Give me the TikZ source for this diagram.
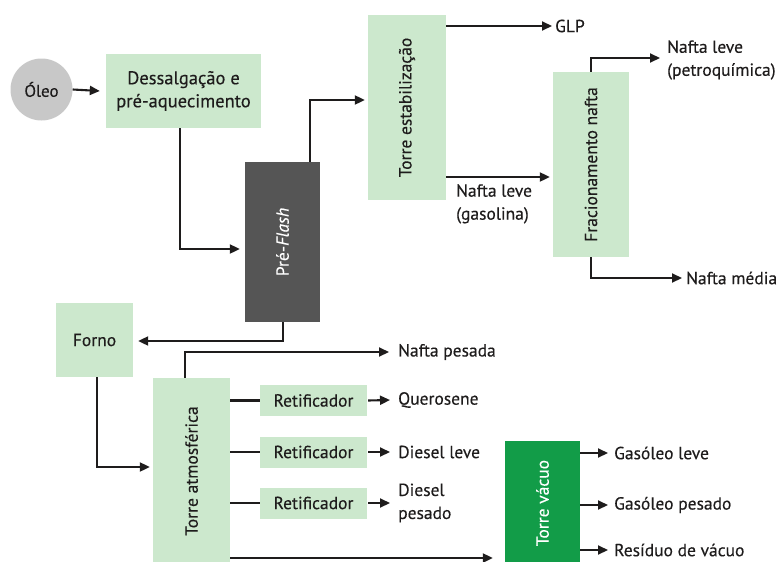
\documentclass[tikz,border=0pt]{standalone}
\usepackage{fontspec}
\usepackage{graphicx}
\setmainfont[FakeBold=0.3]{PT Sans}
\usetikzlibrary{arrows.meta,calc}

\definecolor{boxgreen}{RGB}{204,232,205}
\definecolor{flashgray}{RGB}{85,85,85}
\definecolor{vacgreen}{RGB}{18,156,72}
\definecolor{oilgray}{RGB}{200,200,200}
\definecolor{ink}{RGB}{30,28,28}

\begin{document}
\begin{tikzpicture}[x=1pt,y=-1pt,
  every node/.style={font=\fontsize{17.5}{23}\selectfont, text=ink},
  unit/.style={fill=boxgreen, draw=none, inner sep=0pt, align=center},
  flow/.style={draw=ink, line width=2.1pt, -{Triangle[length=10pt,width=9pt]}},
  tie/.style={draw=ink, line width=2.1pt},
  product/.style={anchor=west, align=left, inner sep=0pt},
]
\useasboundingbox (0,0) rectangle (782,562);

% --- process units ---
\node[circle, fill=oilgray, minimum size=62pt, inner sep=0pt, font=\fontsize{17}{20}\selectfont] (oleo) at (41.5,89.5) {Óleo};
\node[unit, minimum width=155pt, minimum height=74pt] (dess) at (183.5,91) {\fontsize{18.5}{23}\selectfont Dessalgação e\\\fontsize{18.5}{23}\selectfont pré-aquecimento};
\node[unit, fill=flashgray, text=white, minimum width=75pt, minimum height=160pt] (pre) at (282.5,242)
  {\rotatebox{90}{Pré-\textit{Flash}}};
\node[unit, minimum width=78pt, minimum height=185pt] (torreest) at (407,107.5)
  {\rotatebox{90}{Torre estabilização}};
\node[unit, minimum width=76pt, minimum height=185pt] (frac) at (591,164.5)
  {\rotatebox{90}{Fracionamento nafta}};
\node[unit, minimum width=77pt, minimum height=74pt] (forno) at (94.5,340) {Forno};
\node[unit, minimum width=77pt, minimum height=186pt] (atm) at (191.5,471)
  {\rotatebox{90}{Torre atmosférica}};
\node[unit, minimum width=107pt, minimum height=31pt] (ret1) at (313.5,400.5) {Retificador};
\node[unit, minimum width=107pt, minimum height=31pt] (ret2) at (313.5,452) {Retificador};
\node[unit, minimum width=107pt, minimum height=31pt] (ret3) at (313.5,503) {Retificador};
\node[unit, fill=vacgreen, text=white, minimum width=75pt, minimum height=124pt] (vac) at (542.5,503)
  {\rotatebox{90}{Torre vácuo}};

% --- product labels ---
\node[product] (glp) at (555,26) {GLP};
\node[product, anchor=north west] (gas) at (456,184) {Nafta leve\\(gasolina)};
\node[product] (nlp) at (667,60) {Nafta leve\\(petroquímica)};
\node[product] (nm) at (686,278) {Nafta média};
\node[product] (np) at (398,352) {Nafta pesada};
\node[product] (ker) at (398,400) {Querosene};
\node[product] (dl) at (398,452) {Diesel leve};
\node[product] (dp) at (398,503) {Diesel\\pesado};
\node[product] (gl) at (614,453) {Gasóleo leve};
\node[product] (gp) at (614,505) {Gasóleo pesado};
\node[product] (rv) at (614,550) {Resíduo de vácuo};

% --- connectors ---
\draw[flow] (oleo.east) -- ([xshift=-6pt]dess.west);
\draw[flow] ([xshift=-3.5pt]dess.south) |- ([xshift=-5pt,yshift=-7pt]pre.west);
\draw[flow] ([xshift=27.5pt]pre.north) |- ([xshift=-3pt,yshift=7.5pt]torreest.west);
\draw[flow] (torreest.east |- glp.west) -- ([xshift=-3pt]glp.west);
\path ([yshift=-69.5pt]torreest.east) coordinate (gasout);
\draw[flow] (gasout) -- ($(frac.west |- gasout)+(-3,0)$);
\draw[flow] (frac.north) |- ($(nlp.west)+(-7,-2)$);
\draw[flow] (frac.south) |- ([xshift=-4pt]nm.west);
\draw[flow] ([xshift=0.5pt]pre.south) |- ([xshift=5pt,yshift=-1pt]forno.east);
\draw[flow] ([xshift=2.5pt]forno.south) |- ([xshift=-3pt,yshift=4pt]atm.west);
\draw[flow] ([xshift=-6.5pt]atm.north) |- ([xshift=-9pt]np.west);
\draw[tie] (atm.east |- ret1.west) -- (ret1.west);
\draw[tie] (atm.east |- ret2.west) -- (ret2.west);
\draw[tie] (atm.east |- ret3.west) -- (ret3.west);
\draw[flow] ([xshift=1pt]ret1.east) -- ([xshift=-8pt]ker.west);
\draw[flow] ([xshift=1pt]ret2.east) -- ([xshift=-8pt]dl.west);
\draw[flow] ([xshift=1pt]ret3.east) -- ([xshift=-8pt]dp.west);
\path ($(atm.east)+(0,87)$) coordinate (atmres);
\draw[flow] (atmres) -- ($(vac.west |- atmres)+(-12,0)$);
\draw[flow] (vac.east |- gl.west) -- ([xshift=-6pt]gl.west);
\draw[flow] (vac.east |- gp.west) -- ([xshift=-6pt]gp.west);
\draw[flow] (vac.east |- rv.west) -- ([xshift=-6pt]rv.west);
\end{tikzpicture}
\end{document}
